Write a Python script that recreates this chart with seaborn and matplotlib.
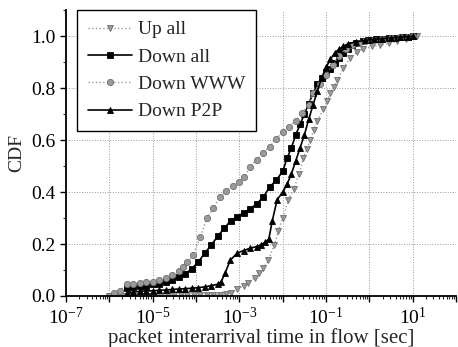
import numpy as np
import pandas as pd
import matplotlib
matplotlib.use("Agg")
import matplotlib.pyplot as plt
import matplotlib.ticker as mticker
import seaborn as sns

# CDF values; x positions given as log10(seconds)
up_logx = [-6.0, -5.85, -5.7, -5.55, -5.4, -5.25, -5.1, -4.95, -4.8, -4.65, -4.5, -4.35, -4.2,
           -4.05, -3.9, -3.75, -3.6, -3.45, -3.3, -3.2, -3.05, -2.9, -2.8, -2.65, -2.55, -2.45,
           -2.33, -2.2, -2.1, -2.0, -1.87, -1.75, -1.62, -1.53, -1.45, -1.36, -1.28, -1.2,
           -1.06, -0.98, -0.9, -0.82, -0.74, -0.6, -0.44, -0.28, -0.14, 0.05, 0.25, 0.45,
           0.64, 0.85, 1.1]
up_cdf = [0.0, 0.0, 0.0, 0.0, 0.0, 0.001, 0.001, 0.001, 0.001, 0.001, 0.002, 0.002, 0.002,
          0.002, 0.003, 0.003, 0.004, 0.005, 0.008, 0.013, 0.025, 0.04, 0.05, 0.07, 0.09, 0.107,
          0.138, 0.195, 0.25, 0.30, 0.37, 0.41, 0.47, 0.53, 0.565, 0.60, 0.64, 0.674,
          0.72, 0.75, 0.78, 0.805, 0.83, 0.877, 0.916, 0.94, 0.95, 0.96, 0.965, 0.972,
          0.98, 0.99, 1.0]

dall_logx = [-5.6, -5.45, -5.3, -5.15, -5.0, -4.85, -4.7, -4.55, -4.4, -4.25, -4.1, -3.95,
             -3.8, -3.65, -3.5, -3.35, -3.2, -3.05, -2.9, -2.75, -2.6, -2.45, -2.3, -2.15, -2.0,
             -1.9, -1.8, -1.7, -1.6, -1.5, -1.4, -1.3, -1.2, -1.1, -1.0, -0.9, -0.8, -0.7, -0.6,
             -0.5, -0.4, -0.3, -0.15, 0.0, 0.15, 0.3, 0.45, 0.6, 0.75, 0.9, 1.0]
dall_cdf = [0.03, 0.035, 0.038, 0.04, 0.045, 0.048, 0.052, 0.06, 0.072, 0.085, 0.105, 0.13,
            0.165, 0.195, 0.23, 0.26, 0.29, 0.305, 0.32, 0.335, 0.355, 0.38, 0.42, 0.445, 0.48,
            0.53, 0.57, 0.62, 0.66, 0.70, 0.74, 0.78, 0.815, 0.84, 0.86, 0.875, 0.895, 0.915, 0.935,
            0.95, 0.965, 0.975, 0.98, 0.984, 0.987, 0.99, 0.992, 0.994, 0.996, 0.998, 1.0]

www_logx = [-6.0, -5.9, -5.75, -5.6, -5.45, -5.3, -5.15, -5.0, -4.85, -4.7, -4.55, -4.4, -4.3,
            -4.2, -4.07, -3.9, -3.75, -3.6, -3.45, -3.3, -3.15, -3.0, -2.9, -2.75, -2.6, -2.45,
            -2.3, -2.15, -2.0, -1.85, -1.7, -1.55, -1.4, -1.3, -1.15, -1.0, -0.85, -0.7, -0.55,
            -0.4, -0.25, -0.1, 0.1, 0.3, 0.5, 0.7, 0.9, 1.0]
www_cdf = [0.0, 0.01, 0.02, 0.045, 0.048, 0.05, 0.053, 0.055, 0.06, 0.07, 0.08, 0.095, 0.11,
           0.13, 0.157, 0.226, 0.30, 0.337, 0.38, 0.405, 0.425, 0.44, 0.456, 0.495, 0.525, 0.55,
           0.575, 0.605, 0.63, 0.65, 0.675, 0.705, 0.735, 0.78, 0.815, 0.85, 0.89, 0.925, 0.95,
           0.965, 0.975, 0.98, 0.985, 0.99, 0.993, 0.996, 0.998, 1.0]

p2p_logx = [-5.6, -5.45, -5.3, -5.15, -5.0, -4.85, -4.7, -4.55, -4.4, -4.25, -4.1, -3.95, -3.8,
            -3.65, -3.5, -3.42, -3.33, -3.21, -3.05, -2.9, -2.75, -2.6, -2.5, -2.4, -2.32, -2.24,
            -2.13, -2.0, -1.9, -1.8, -1.7, -1.6, -1.5, -1.4, -1.3, -1.2, -1.1, -1.0, -0.9, -0.8,
            -0.7, -0.6, -0.5, -0.3, -0.1, 0.1, 0.3, 0.5, 0.7, 0.9, 1.0]
p2p_cdf = [0.01, 0.015, 0.018, 0.02, 0.02, 0.022, 0.023, 0.025, 0.027, 0.028, 0.03, 0.032, 0.035,
           0.04, 0.045, 0.055, 0.088, 0.138, 0.165, 0.175, 0.184, 0.19, 0.197, 0.207, 0.22, 0.29,
           0.37, 0.40, 0.43, 0.47, 0.52, 0.57, 0.62, 0.68, 0.735, 0.79, 0.84, 0.88, 0.91, 0.935,
           0.95, 0.96, 0.97, 0.978, 0.983, 0.987, 0.99, 0.993, 0.996, 0.998, 1.0]

labels = ["Up all", "Down all", "Down WWW", "Down P2P"]

sns.set_theme(style="ticks")
plt.rcParams["font.family"] = ["Liberation Serif", "DejaVu Serif"]
plt.rcParams["mathtext.fontset"] = "custom"
plt.rcParams["mathtext.rm"] = "Liberation Serif"
plt.rcParams["mathtext.it"] = "Liberation Serif:italic"
plt.rcParams["axes.unicode_minus"] = True

fig, ax = plt.subplots(figsize=(4.58, 3.47), dpi=100)
fig.subplots_adjust(left=0.144, right=0.996, bottom=0.147, top=0.971)

gray, gray_edge = "#9a9a9a", "#6e6e6e"
series = [
    (up_logx, up_cdf, labels[0], gray, gray_edge, "v", ":"),
    (dall_logx, dall_cdf, labels[1], "black", "black", "s", "-"),
    (www_logx, www_cdf, labels[2], gray, gray_edge, "o", ":"),
    (p2p_logx, p2p_cdf, labels[3], "black", "black", "^", "-"),
]
for lx, cdf, lab, col, edge, mk, ls in series:
    df = pd.DataFrame({"x": 10.0 ** np.array(lx), "cdf": cdf})
    sns.lineplot(data=df, x="x", y="cdf", ax=ax, color=col, marker=mk, linestyle=ls,
                 linewidth=1.2 if ls == "-" else 1.0, markersize=4.5,
                 markerfacecolor=col, markeredgecolor=edge, markeredgewidth=0.6,
                 label=lab, estimator=None)

ax.set_xscale("log")
ax.set_xlim(1e-7, 1e2)
ax.set_ylim(0, 1.1)

ax.xaxis.set_major_locator(mticker.LogLocator(base=10, numticks=20))
ax.xaxis.set_minor_locator(mticker.LogLocator(base=10, subs=np.arange(2, 10), numticks=20))


def fmt_x(v, pos):
    e = int(round(np.log10(v)))
    return r"$10^{%d}$" % e if e % 2 else ""


ax.xaxis.set_major_formatter(mticker.FuncFormatter(fmt_x))
ax.xaxis.set_minor_formatter(mticker.NullFormatter())
ax.yaxis.set_major_locator(mticker.MultipleLocator(0.2))
ax.yaxis.set_minor_locator(mticker.MultipleLocator(0.1))
ax.yaxis.set_major_formatter(mticker.FormatStrFormatter("%.1f"))

ax.grid(True, which="major", linestyle=":", color="#999999", linewidth=0.7)
ax.tick_params(which="major", direction="out", length=4, width=1, labelsize=14, colors="black")
ax.tick_params(which="minor", direction="out", length=2.5, width=0.8)

sns.despine(ax=ax, top=True, right=True)
for s in ["left", "bottom"]:
    ax.spines[s].set_color("black")
    ax.spines[s].set_linewidth(1.3)

ax.set_xlabel("packet interarrival time in flow [sec]", fontsize=15, labelpad=0)
ax.set_ylabel("CDF", fontsize=14, labelpad=4)

leg = ax.legend(loc="upper left", bbox_to_anchor=(0.028, 1.0), borderaxespad=0,
                fontsize=14, frameon=True, fancybox=False, edgecolor="black",
                framealpha=1, handlelength=2.3, handletextpad=0.3, labelspacing=0.5,
                borderpad=0.55)
leg.get_frame().set_linewidth(1.0)

fig.savefig("out.png", dpi=100)
